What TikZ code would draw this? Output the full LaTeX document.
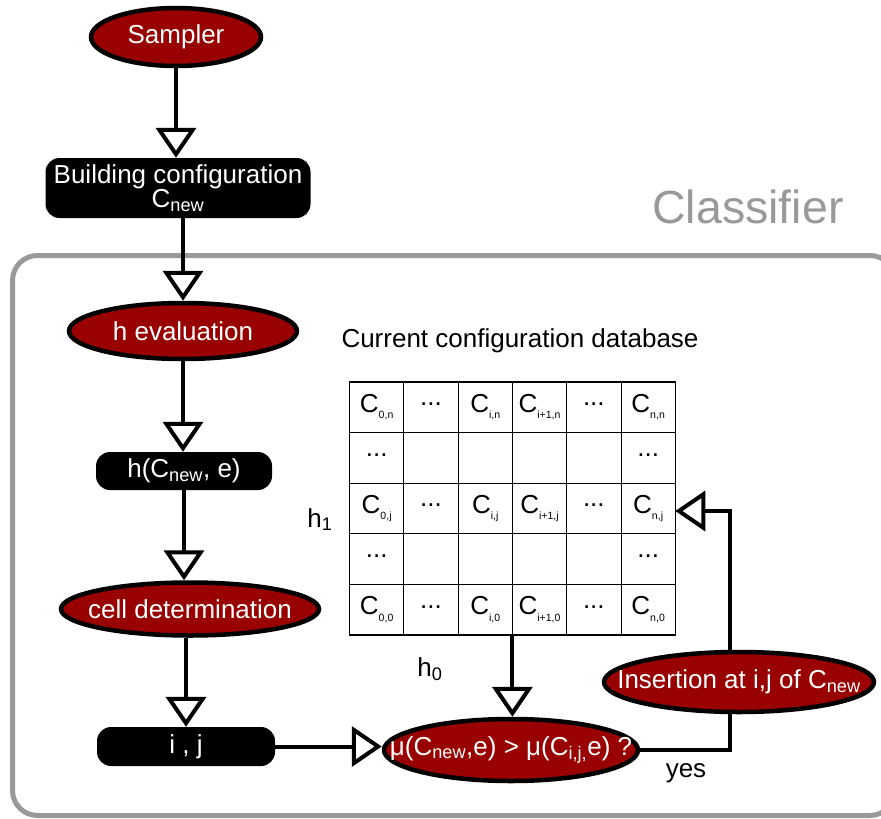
\documentclass[tikz,border=0pt]{standalone}
\usepackage{fontspec}
\setmainfont{Liberation Sans}
\usetikzlibrary{shapes.geometric,arrows.meta,calc}
\definecolor{dred}{RGB}{153,0,0}
\definecolor{frame}{RGB}{153,153,153}
\tikzset{
  ell/.style={ellipse, draw=black, line width=4.5pt, fill=dred, text=white, inner sep=0pt, font=\fontsize{26}{29}\selectfont},
  blk/.style={rectangle, rounded corners=14pt, fill=black, text=white, inner sep=0pt, font=\fontsize{26}{29}\selectfont, align=center},
  arr/.style={line width=4pt, -{Triangle[length=30pt, width=40pt, fill=white, line join=miter]}},
  lin/.style={line width=4pt},
  cell/.style={font=\fontsize{26}{28}\selectfont, inner sep=0pt},
  lbl/.style={font=\fontsize{26}{28}\selectfont, inner sep=0pt},
}
\newcommand{\sbx}[1]{\raisebox{-0.25em}{\fontsize{10.5}{11}\selectfont #1}}
\newcommand{\zw}[1]{\makebox[0pt]{#1}}
\begin{document}
\begin{tikzpicture}[x=1pt,y=-1pt]
\useasboundingbox (0,0) rectangle (881,819);
% classifier frame
\draw[frame, line width=5pt, rounded corners=25pt] (12.5,255.5) rectangle (895,815.5);
\node[text=frame, font=\fontsize{46.5}{50}\selectfont, anchor=base] (cls) at (748,223) {Classifier};

% nodes
\node[ell, minimum width=170pt, minimum height=58pt] (sampler) at (176,37) {\zw{Sampler}};
\node[blk, minimum width=265pt, minimum height=60pt] (build) at (178,188)
  {Building configuration\\[-5pt]C\textsubscript{new}};
\node[ell, minimum width=228pt, minimum height=56pt] (heval) at (183,331) {\zw{h evaluation}};
\node[blk, minimum width=176pt, minimum height=38pt] (hbox) at (184,471) {h(C\textsubscript{new}, e)};
\node[ell, minimum width=258pt, minimum height=53pt] (celld) at (190,609) {\zw{cell determination}};
\node[blk, minimum width=178pt, minimum height=39pt] (ij) at (186,746.5) {i , j};
\node[ell, minimum width=254pt, minimum height=62pt] (mu) at (511,750)
  {\zw{μ(C\textsubscript{new},e) > μ(C\textsubscript{i,j,}e) ?}};
\node[ell, minimum width=270pt, minimum height=60pt] (ins) at (739,682)
  {\zw{Insertion at i,j of C\textsubscript{new}}};

% labels
\node[lbl, anchor=base] (cur) at (520,347) {Current configuration database};
\node[lbl, anchor=base] (h1) at (320,527) {h\textsubscript{1}};
\node[lbl, anchor=base] (h0) at (430,676) {h\textsubscript{0}};
\node[lbl, anchor=base] (yes) at (686,777) {yes};

% grid
\def\gx{349.5}\def\gy{382}\def\cw{54.3}\def\rh{50.6}
\foreach \k in {1,...,5}{
  \draw[line width=1pt] ({\gx+\k*\cw},\gy) -- ({\gx+\k*\cw},{\gy+5*\rh});
}
\foreach \k in {1,...,4}{
  \draw[line width=1pt] (\gx,{\gy+\k*\rh}) -- ({\gx+6*\cw},{\gy+\k*\rh});
}
\draw[line width=1.5pt] (\gx,\gy) rectangle ({\gx+6*\cw},{\gy+5*\rh});
\coordinate (gridbot) at ({\gx+3*\cw},{\gy+5*\rh});
\coordinate (gridright) at ({\gx+6*\cw},511);
\foreach \r/\s in {0/n,2/j,4/0}{
  \node[cell] (c0\r) at ({\gx+0.5*\cw},{\gy+(\r+0.5)*\rh}) {C\sbx{0,\s}};
  \node[cell] (d1\r) at ({\gx+1.5*\cw},{\gy+(\r+0.5)*\rh-3}) {...};
  \node[cell] (ci\r) at ({\gx+2.5*\cw},{\gy+(\r+0.5)*\rh}) {C\sbx{i,\s}};
  \node[cell] (cj\r) at ({\gx+3.5*\cw},{\gy+(\r+0.5)*\rh}) {C\sbx{i+1,\s}};
  \node[cell] (d4\r) at ({\gx+4.5*\cw},{\gy+(\r+0.5)*\rh-3}) {...};
  \node[cell] (cn\r) at ({\gx+5.5*\cw},{\gy+(\r+0.5)*\rh}) {C\sbx{n,\s}};
}
\foreach \r in {1,3}{
  \node[cell] (e0\r) at ({\gx+0.5*\cw},{\gy+(\r+0.5)*\rh-3}) {...};
  \node[cell] (e5\r) at ({\gx+5.5*\cw},{\gy+(\r+0.5)*\rh-3}) {...};
}

% connectors
\draw[arr] (sampler.south) -- (sampler.south |- build.north);
\draw[arr] (build.south -| heval.north) -- (heval.north);
\draw[arr] (heval.south) -- (heval.south |- hbox.north);
\draw[arr] (hbox.south) -- (hbox.south |- celld.north);
\draw[arr] ([xshift=-4pt]celld.south) -- ([xshift=-4pt]celld.south |- ij.north);
\draw[arr] (ij.east) -- (mu.west |- ij.east);
\draw[arr] (gridbot) -- (gridbot |- mu.north);
\draw[lin] (mu.east) -- ++(90,0) coordinate (corner) -- (corner |- ins.south);
\draw[arr] (corner |- ins.north) -- (corner |- gridright) -- (gridright);
\end{tikzpicture}
\end{document}
